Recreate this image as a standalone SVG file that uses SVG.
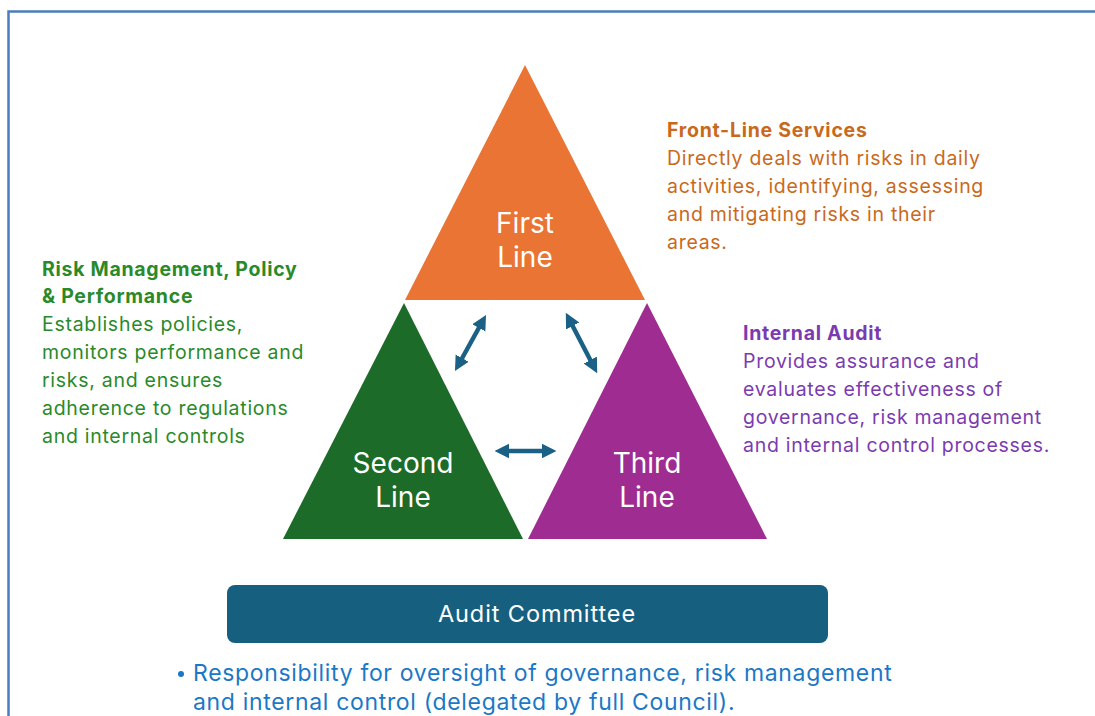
<svg xmlns="http://www.w3.org/2000/svg" width="1095" height="716" viewBox="0 0 1095 716">
  <defs>
    <style>
      .frame { fill: none; stroke: #4a7ebb; stroke-width: 2.5; }
      .tri-label { font-family: Inter, "Liberation Sans", sans-serif; font-size: 28px; fill: #ffffff; text-anchor: middle; }
      .desc { font-family: Inter, "Liberation Sans", sans-serif; font-size: 19.5px; letter-spacing: 0.72px; }
      .desc .head { font-weight: bold; }
      .orange-text { fill: #c9691c; }
      .green-text { fill: #2a8a2a; }
      .purple-text { fill: #7b3bb0; }
      .link { stroke: #1b6185; stroke-width: 4.5; fill: none; marker-start: url(#head); marker-end: url(#head); }
      .committee-label { font-family: Inter, "Liberation Sans", sans-serif; font-size: 23.5px; letter-spacing: 0.9px; fill: #ffffff; text-anchor: middle; }
      .note { font-family: Inter, "Liberation Sans", sans-serif; font-size: 23px; letter-spacing: 0.67px; fill: #1b78c6; }
    </style>
    <marker id="head" viewBox="0 0 10 10" refX="3" refY="5" markerWidth="3.3" markerHeight="3.5" orient="auto-start-reverse" markerUnits="strokeWidth">
      <path d="M0,0 L10,5 L0,10 z" fill="#1b6185"/>
    </marker>
  </defs>

  <rect width="1095" height="716" fill="#ffffff"/>
  <!-- page frame, open at right and bottom -->
  <path class="frame" d="M1095,11.5 H8.5 V716"/>

  <!-- first line -->
  <g id="first-line">
    <polygon points="525,65 405,300 645,300" fill="#e97434"/>
    <text class="tri-label" x="525" y="233">First</text>
    <text class="tri-label" x="525" y="267">Line</text>
  </g>

  <!-- second line -->
  <g id="second-line">
    <polygon points="404,303 283,539 523,539" fill="#1c6b28"/>
    <text class="tri-label" x="403" y="473">Second</text>
    <text class="tri-label" x="403" y="507">Line</text>
  </g>

  <!-- third line -->
  <g id="third-line">
    <polygon points="647,303 528,539 767,539" fill="#9e2c91"/>
    <text class="tri-label" x="647" y="473">Third</text>
    <text class="tri-label" x="647" y="507">Line</text>
  </g>

  <!-- two-way links between the lines -->
  <g id="connectors">
    <line class="link" x1="460" y1="362" x2="481" y2="324"/>
    <line class="link" x1="570.6" y1="322" x2="592.4" y2="364"/>
    <line class="link" x1="505" y1="451" x2="546" y2="451"/>
  </g>

  <!-- descriptions -->
  <g id="front-line-services">
    <text class="desc orange-text" x="667">
      <tspan class="head" x="667" y="137">Front-Line Services</tspan>
      <tspan x="667" y="165">Directly deals with risks in daily</tspan>
      <tspan x="667" y="193">activities, identifying, assessing</tspan>
      <tspan x="667" y="221">and mitigating risks in their</tspan>
      <tspan x="667" y="249">areas.</tspan>
    </text>
  </g>

  <g id="risk-management">
    <text class="desc green-text" x="42">
      <tspan class="head" x="42" y="276">Risk Management, Policy</tspan>
      <tspan class="head" x="42" y="303">&amp; Performance</tspan>
      <tspan x="42" y="331">Establishes policies,</tspan>
      <tspan x="42" y="359">monitors performance and</tspan>
      <tspan x="42" y="387">risks, and ensures</tspan>
      <tspan x="42" y="415">adherence to regulations</tspan>
      <tspan x="42" y="443">and internal controls</tspan>
    </text>
  </g>

  <g id="internal-audit">
    <text class="desc purple-text" x="743">
      <tspan class="head" x="743" y="340">Internal Audit</tspan>
      <tspan x="743" y="368">Provides assurance and</tspan>
      <tspan x="743" y="396">evaluates effectiveness of</tspan>
      <tspan x="743" y="424">governance, risk management</tspan>
      <tspan x="743" y="452">and internal control processes.</tspan>
    </text>
  </g>

  <!-- oversight body -->
  <g id="audit-committee">
    <rect x="227" y="585" width="601" height="58" rx="8" fill="#175f7f"/>
    <text class="committee-label" x="537" y="622">Audit Committee</text>
  </g>

  <g id="committee-note">
    <circle cx="181" cy="674" r="3" fill="#1b78c6"/>
    <text class="note" x="193" y="681">Responsibility for oversight of governance, risk management</text>
    <text class="note" x="193" y="710">and internal control (delegated by full Council).</text>
  </g>
</svg>
